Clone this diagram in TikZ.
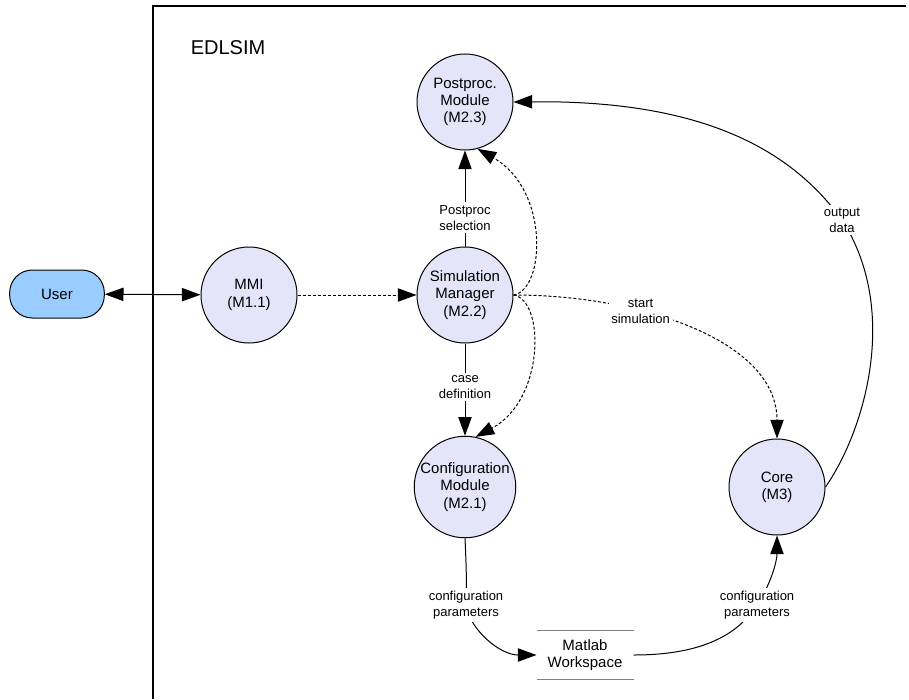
\documentclass[tikz,border=0pt]{standalone}
\usepackage{fontspec}
\setmainfont{Liberation Sans}
\usetikzlibrary{arrows.meta}

\definecolor{procfill}{RGB}{229,229,250}
\definecolor{userfill}{RGB}{153,204,255}

\tikzset{every picture/.style={line width=0.75pt}}
\tikzset{
  proc/.style={circle, draw, fill=procfill, minimum size=72pt, inner sep=0pt, align=center, font=\fontsize{11.25}{13}\selectfont},
  actor/.style={draw, fill=userfill, rounded corners=17pt, minimum width=71pt, minimum height=36pt, font=\fontsize{11.25}{13}\selectfont},
  store/.style={minimum width=72pt, minimum height=36pt, inner sep=0pt, align=center, font=\fontsize{11.25}{13}\selectfont},
  lbl/.style={fill=white, inner sep=2pt, align=center, font=\fontsize{9.75}{12}\selectfont},
  flow/.style={-{Triangle[length=14pt,width=10pt]}},
  bothflow/.style={{Triangle[length=14pt,width=10pt]}-{Triangle[length=14pt,width=10pt]}},
  dflow/.style={flow, dash pattern=on 2.25pt off 1.5pt},
}

\begin{document}
\begin{tikzpicture}[x=0.75pt,y=0.75pt,yscale=-1,xscale=1]
\useasboundingbox (0,0) rectangle (909,699);

%Frame
\draw [line width=1pt] (153,699) -- (153,6) -- (906,6) ;
% Text Node
\node (edlsim) at (228,48) [font=\fontsize{15}{18}\selectfont] {EDLSIM};

%Shape: User
\node (user) at (57,294) [actor] {User};
%Shape: Circles
\node (mmi) at (249,295) [proc] {MMI\\(M1.1)};
\node (sim) at (465,295) [proc] {Simulation\\Manager\\(M2.2)};
\node (post) at (465,102) [proc] {Postproc.\\Module\\(M2.3)};
\node (conf) at (465,487) [proc] {Configuration\\Module\\(M2.1)};
\node (core) at (777,487) [proc] {Core\\(M3)};
%Shape: Store
\node (mw) at (585,655) [store] {Matlab\\Workspace};
\draw [gray, line width=1.1pt] (mw.north west) -- (mw.north east) (mw.south west) -- (mw.south east) ;

%Straight Lines
\draw [bothflow] (user) -- (mmi) ;
\draw [dflow] (mmi) -- (sim) ;
\draw [flow] (sim) -- node [lbl, pos=0.3] {Postproc\\selection} (post) ;
\draw [flow] (sim) -- node [lbl, pos=0.47] {case\\definition} (conf) ;

%Curve Lines
\draw [dflow] (sim.east) .. controls (545,290) and (550,190) .. (post.-75) ;
\draw [dflow] (sim.east) .. controls (545,300) and (545,400) .. (conf.78) ;
\draw [dflow] (sim.east) .. controls +(127,0) and +(0,-98) .. node [lbl, pos=0.34] {start\\simulation} (core.north) ;
\draw [flow] (core.east) .. controls (865,430) and (900,310) .. (842,220) node [lbl] {output\\data} .. controls (790,148) and (700,100) .. (post.east) ;
\draw [flow] (conf.south) .. controls (466,560) and (467,585) .. (466,605) node [lbl] {configuration\\parameters} .. controls (470,630) and (500,655) .. (mw.west) ;
\draw [flow] (mw.east) .. controls (700,655) and (737,636) .. (757,605) node [lbl] {configuration\\parameters} .. controls (772,582) and (777,560) .. (core.south) ;

\end{tikzpicture}
\end{document}
